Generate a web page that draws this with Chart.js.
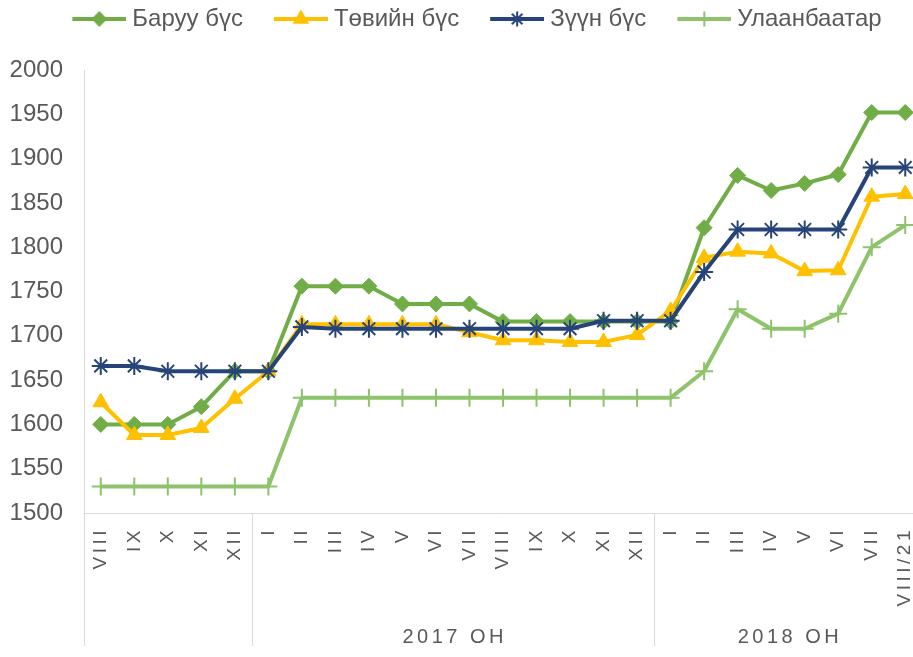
<!DOCTYPE html>
<html>
<head>
<meta charset="utf-8">
<script src="https://cdn.jsdelivr.net/npm/chart.js@4.4.0/dist/chart.umd.min.js"></script>
<style>
  html, body { margin: 0; padding: 0; background: #fff; overflow: hidden; }
  #wrap { position: absolute; left: 0; top: 0; width: 922px; height: 657px; }
</style>
</head>
<body>
<div id="wrap"><canvas id="priceChart" width="922" height="657"></canvas></div>
<script>
// сарууд (2016 VIII - 2018 VIII/21)
const months = ['VIII', 'IX', 'X', 'XI', 'XII',
  'I', 'II', 'III', 'IV', 'V', 'VI', 'VII', 'VIII', 'IX', 'X', 'XI', 'XII',
  'I', 'II', 'III', 'IV', 'V', 'VI', 'VII', 'VIII/21'];
const yearGroups = ['', '2017 ОН', '2018 ОН'];
const groupStarts = [0, 5, 17];

const seriesNames = ['Баруу бүс', 'Төвийн бүс', 'Зүүн бүс', 'Улаанбаатар'];
const baruu = [1600, 1600, 1600, 1620, 1660,
  1660, 1756, 1756, 1756, 1736, 1736, 1736, 1716, 1716, 1716, 1716, 1716,
  1716, 1822, 1881, 1864, 1872, 1882, 1952, 1952];
const tuviin = [1625, 1588, 1588, 1596, 1629,
  1660, 1713, 1713, 1713, 1713, 1713, 1704, 1695, 1695, 1693, 1693, 1701,
  1728, 1788, 1795, 1793, 1773, 1774, 1857, 1860];
const zuun = [1666, 1666, 1660, 1660, 1660,
  1660, 1710, 1708, 1708, 1708, 1708, 1708, 1708, 1708, 1708, 1717, 1717,
  1717, 1772, 1820, 1820, 1820, 1820, 1890, 1890];
const ulaanbaatar = [1530, 1530, 1530, 1530, 1530,
  1530, 1630, 1630, 1630, 1630, 1630, 1630, 1630, 1630, 1630, 1630, 1630,
  1630, 1660, 1730, 1708, 1708, 1725, 1800, 1825];

const yMin = 1500, yMax = 2000, yStep = 50;

const FONT = '"Liberation Sans", Arial, sans-serif';
Chart.defaults.font.family = FONT;
Chart.defaults.color = '#595959';

const colors = ['#70AD47', '#FFC000', '#264478', '#8DC36B'];
const markers = ['rectRot', 'triangle', 'star', 'cross'];
const markerRadius = [8, 9, 9, 9];

// legend: line + marker as a small canvas
function swatch(color, style, radius) {
  const c = document.createElement('canvas');
  c.width = 84; c.height = 22;
  const g = c.getContext('2d');
  g.strokeStyle = color; g.fillStyle = color;
  g.lineWidth = 4;
  g.beginPath(); g.moveTo(30, 11); g.lineTo(84, 11); g.stroke();
  g.lineWidth = 2;
  Chart.helpers.drawPoint(g, {pointStyle: style, radius: radius, borderWidth: 2, rotation: 0}, 57, 11);
  return c;
}
const swatches = colors.map((c, i) => swatch(c, markers[i], markerRadius[i] - 1.5));

const legendSpace = {
  id: 'legendSpace',
  beforeLayout(chart) {
    const lg = chart.legend;
    if (lg && !lg._patched) {
      const fit = lg.fit;
      lg.fit = function () { fit.call(this); this.height = 70; };
      lg._patched = true;
    }
  }
};

// Хоёр түвшний ангиллын тэнхлэг
const groupAxis = {
  id: 'groupAxis',
  afterDraw(chart) {
    const { ctx, scales: { x } } = chart;
    const step = x.getPixelForTick(1) - x.getPixelForTick(0);
    ctx.save();
    ctx.fillStyle = '#595959';
    ctx.letterSpacing = '3.5px';
    ctx.font = '19px ' + FONT;
    months.forEach((m, i) => {
      ctx.save();
      ctx.translate(x.getPixelForTick(i), x.top + 14);
      ctx.rotate(-Math.PI / 2);
      ctx.textAlign = 'right';
      ctx.textBaseline = 'middle';
      ctx.fillText(m, 0, 0);
      ctx.restore();
    });
    ctx.strokeStyle = '#d9d9d9';
    ctx.lineWidth = 1;
    ctx.font = '20px ' + FONT;
    ctx.textAlign = 'center';
    ctx.textBaseline = 'middle';
    groupStarts.forEach((s, g) => {
      const left = x.getPixelForTick(s) - step / 2;
      const end = g + 1 < groupStarts.length ? groupStarts[g + 1] - 1 : months.length - 1;
      const right = x.getPixelForTick(end) + step / 2;
      const lx = Math.round(left) + 0.5;
      ctx.beginPath();
      ctx.moveTo(lx, x.top);
      ctx.lineTo(lx, x.top + 133);
      ctx.stroke();
      if (yearGroups[g]) ctx.fillText(yearGroups[g], (left + right) / 2 + 2, x.top + 124);
    });
    ctx.restore();
  }
};

const PAD_LEFT = 8;

const series = [baruu, tuviin, zuun, ulaanbaatar];

new Chart(document.getElementById('priceChart'), {
  type: 'line',
  data: {
    labels: months,
    datasets: series.map((d, i) => ({
      label: seriesNames[i],
      data: d,
      borderColor: colors[i],
      backgroundColor: colors[i],
      borderWidth: 4,
      borderJoinStyle: 'round',
      tension: 0,
      pointStyle: markers[i],
      pointRadius: markerRadius[i],
      pointBorderWidth: i >= 2 ? 2 : 1,
      pointBackgroundColor: colors[i],
      pointBorderColor: colors[i],
      order: 4 - i
    }))
  },
  options: {
    responsive: false,
    animation: false,
    events: [],
    layout: { autoPadding: false, padding: { left: PAD_LEFT, right: 0, top: 0, bottom: 0 } },
    scales: {
      x: {
        offset: true,
        grid: { display: false, drawTicks: false },
        border: { display: true, color: '#d9d9d9', width: 1 },
        ticks: { display: false },
        afterFit(scale) {
          scale.height = 144;
          scale.paddingLeft = 0;
          scale.paddingRight = 0;
        }
      },
      y: {
        min: yMin,
        max: yMax,
        grid: { display: false, drawTicks: false },
        border: { display: true, color: '#d9d9d9', width: 1 },
        ticks: {
          stepSize: yStep,
          padding: 21,
          color: '#595959',
          font: { size: 24 },
          callback: (v) => String(v)
        },
        afterFit(scale) {
          scale.width = 84 - PAD_LEFT;
        }
      }
    },
    plugins: {
      tooltip: { enabled: false },
      legend: {
        position: 'top',
        labels: {
          usePointStyle: true,
          pointStyleWidth: 72,
          padding: 7,
          color: '#595959',
          font: { size: 24 },
          generateLabels(chart) {
            return chart.data.datasets.map((ds, i) => ({
              text: ds.label,
              pointStyle: swatches[i],
              datasetIndex: i,
              hidden: false,
              lineWidth: 0,
              fillStyle: ds.borderColor,
              strokeStyle: ds.borderColor,
              fontColor: '#595959'
            }));
          }
        }
      }
    }
  },
  plugins: [legendSpace, groupAxis]
});
</script>
</body>
</html>
